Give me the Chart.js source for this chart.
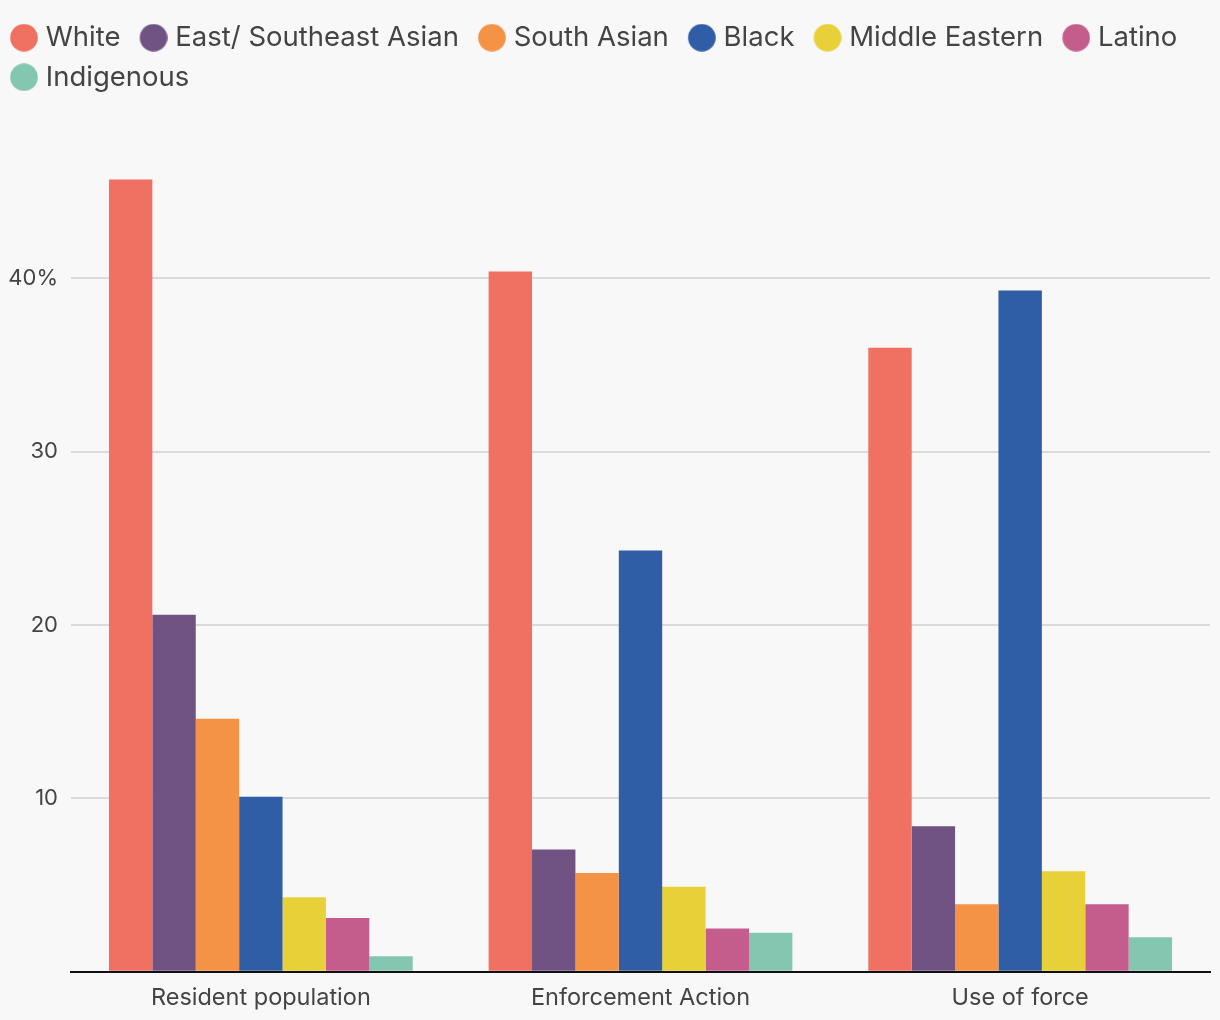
<!DOCTYPE html>
<html>
<head>
<meta charset="utf-8">
<script src="https://cdn.jsdelivr.net/npm/chart.js@4.4.1/dist/chart.umd.min.js"></script>
<style>
  html, body { margin: 0; padding: 0; background: #f8f8f8; }
  #wrap { width: 1220px; height: 1020px; }
</style>
</head>
<body>
<div id="wrap"><canvas id="c" width="1220" height="1020"></canvas></div>
<script>
const categories = ["Resident population", "Enforcement Action", "Use of force"];
const seriesNames = ["White", "East/ Southeast Asian", "South Asian", "Black", "Middle Eastern", "Latino", "Indigenous"];
const white = [45.7, 40.4, 36.0];
const eastSoutheastAsian = [20.6, 7.05, 8.4];
const southAsian = [14.6, 5.7, 3.9];
const black = [10.1, 24.3, 39.3];
const middleEastern = [4.3, 4.9, 5.8];
const latino = [3.1, 2.5, 3.9];
const indigenous = [0.9, 2.25, 2.0];
const yTicks = [10, 20, 30, 40];

const colors = ["#f07162", "#705283", "#f49346", "#2f5ea6", "#e8d038", "#c55d8c", "#84c7b0"];
const values = [white, eastSoutheastAsian, southAsian, black, middleEastern, latino, indigenous];

const FONT = "Inter, 'Noto Sans', sans-serif";
const TEXT = "#444444";

// legend marker images: circle drawn at the right side of a wider canvas
function makeIcon(color) {
  const c = document.createElement('canvas');
  c.width = 41; c.height = 28;
  const g = c.getContext('2d');
  g.fillStyle = color;
  g.beginPath();
  g.arc(41 - 14, 14, 13.8, 0, Math.PI * 2);
  g.fill();
  return c;
}
const legendIcons = colors.map(makeIcon);

const bgPlugin = {
  id: 'bg',
  beforeDraw(chart) {
    const ctx = chart.ctx;
    ctx.save();
    ctx.fillStyle = '#f8f8f8';
    ctx.fillRect(0, 0, chart.width, chart.height);
    ctx.restore();
  }
};

const legendSpace = {
  id: 'legendSpace',
  beforeInit(chart) {
    const lg = chart.legend;
    if (!lg) return;
    const orig = lg.fit;
    lg.fit = function () {
      orig.call(this);
      this.height += 4;
    };
  }
};

new Chart(document.getElementById('c'), {
  type: 'bar',
  data: {
    labels: categories,
    datasets: seriesNames.map((name, i) => ({
      label: name,
      data: values[i],
      backgroundColor: colors[i],
      borderWidth: 0,
      categoryPercentage: 0.8,
      barPercentage: 1.0
    }))
  },
  options: {
    responsive: false,
    animation: false,
    devicePixelRatio: 1,
    layout: { padding: { top: 12, right: 10, bottom: -4, left: -9 } },
    plugins: {
      legend: {
        position: 'top',
        align: 'start',
        labels: {
          usePointStyle: true,
          pointStyleWidth: 29,
          boxHeight: 28,
          padding: 12,
          color: TEXT,
          font: { family: FONT, size: 27.5 },
          generateLabels(chart) {
            const items = Chart.defaults.plugins.legend.labels.generateLabels(chart);
            items.forEach((it, i) => { it.pointStyle = legendIcons[i]; });
            return items;
          }
        }
      },
      tooltip: { enabled: false }
    },
    scales: {
      x: {
        grid: { display: false, drawTicks: false },
        border: { display: true, color: '#111111', width: 2 },
        ticks: { color: TEXT, font: { family: FONT, size: 23.5 }, padding: 12 }
      },
      y: {
        min: 0,
        max: 50,
        afterFit(scale) { scale.width = 80; },
        afterBuildTicks(scale) {
          scale.ticks = [0].concat(yTicks).concat([50]).map(v => ({ value: v }));
        },
        border: { display: false },
        grid: {
          drawTicks: false,
          color: (ctx) => (ctx.tick && (ctx.tick.value === 0 || ctx.tick.value === 50)) ? 'rgba(0,0,0,0)' : '#dadada',
          lineWidth: 2
        },
        ticks: {
          padding: 13,
          color: TEXT,
          font: { family: FONT, size: 22 },
          callback: (v) => (v === 40 ? '40%' : (yTicks.includes(v) ? String(v) : ''))
        }
      }
    }
  },
  plugins: [bgPlugin, legendSpace]
});
</script>
</body>
</html>
